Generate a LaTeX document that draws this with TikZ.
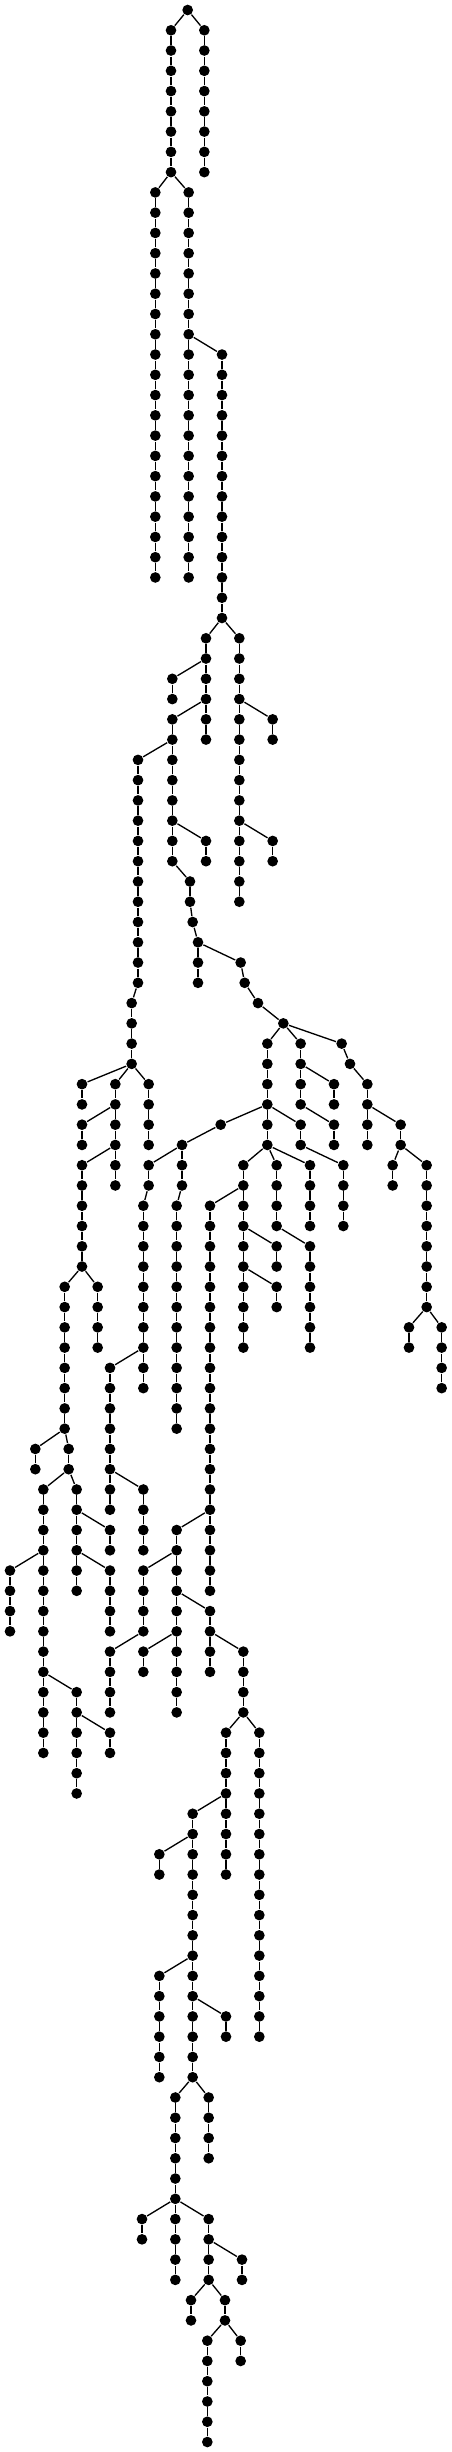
\documentclass[tikz,border=0pt]{standalone}
\tikzset{
  tnode/.style={circle, fill=black, inner sep=0pt, minimum size=3.2pt},
  tedge/.style={line width=0.4pt, black}
}
\newcommand\chain[4]{%
  \foreach \l in {#3,...,#4}{\node[tnode] (#1-\l) at (#2,{-30-60.8*\l}) {};}%
  \ifnum#3<#4\relax
    \foreach \l in {#3,...,#4}{\ifnum\l>#3\relax\pgfmathtruncatemacro\p{\l-1}\draw[tedge] (#1-\p) -- (#1-\l);\fi}%
  \fi}
\newcommand\tlink[2]{\draw[tedge] (#1) -- (#2);}
\begin{document}
\begin{tikzpicture}[x=0.1pt,y=0.1pt]
\useasboundingbox (0,0) rectangle (1356,-7356);
\chain{r}{563}{0}{0}
\chain{A}{513}{1}{8}  \tlink{r-0}{A-1}
\chain{B}{613}{1}{8}  \tlink{r-0}{B-1}
\chain{C}{466}{9}{28} \tlink{A-8}{C-9}
\chain{D}{566}{9}{28} \tlink{A-8}{D-9}
\chain{E}{666}{17}{30} \tlink{D-16}{E-17}
\chain{F}{618}{31}{36} \tlink{E-30}{F-31}
\chain{N}{718}{31}{44} \tlink{E-30}{N-31}
\chain{G}{517}{33}{34} \tlink{F-32}{G-33}
\chain{H}{517}{35}{42} \tlink{F-34}{H-35}
\chain{O}{818}{35}{36} \tlink{N-34}{O-35}
\chain{I}{414}{37}{48} \tlink{H-36}{I-37}
\chain{J}{618}{41}{42} \tlink{H-40}{J-41}
\chain{P}{818}{41}{42} \tlink{N-40}{P-41}
\chain{K}{570}{43}{44} \tlink{H-42}{K-43}
\chain{Ka}{578}{45}{45} \tlink{K-44}{Ka-45}
\chain{Kb}{594}{46}{48} \tlink{Ka-45}{Kb-46}
\chain{M}{722}{47}{47} \tlink{Kb-46}{M-47}
\chain{Ma}{734}{48}{48} \tlink{M-47}{Ma-48}
\chain{Mb}{774}{49}{49} \tlink{Ma-48}{Mb-49}
\chain{Mc}{850}{50}{50} \tlink{Mb-49}{Mc-50}
\chain{Ia}{395}{49}{52} \tlink{I-48}{Ia-49}
\chain{Q}{246}{53}{54} \tlink{Ia-52}{Q-53}
\chain{S}{346}{53}{58} \tlink{Ia-52}{S-53}
\chain{Z}{446}{53}{56} \tlink{Ia-52}{Z-53}
\chain{T}{246}{55}{56} \tlink{S-54}{T-55}
\chain{U}{246}{57}{62} \tlink{S-56}{U-57}
\chain{V}{194}{63}{70} \tlink{U-62}{V-63}
\chain{W}{293}{63}{66} \tlink{U-62}{W-63}
\chain{X}{106}{71}{72} \tlink{V-70}{X-71}
\chain{Y}{206}{71}{72} \tlink{V-70}{Y-71}
\chain{Ya}{130}{73}{86} \tlink{Y-72}{Ya-73}
\chain{Yb}{230}{73}{78} \tlink{Y-72}{Yb-73}
\chain{Yc}{30}{77}{80} \tlink{Ya-76}{Yc-77}
\chain{Yd}{230}{83}{88} \tlink{Ya-82}{Yd-83}
\chain{Ye}{330}{85}{86} \tlink{Yd-84}{Ye-85}
\chain{Yf}{330}{75}{76} \tlink{Yb-74}{Yf-75}
\chain{Yg}{330}{77}{80} \tlink{Yb-76}{Yg-77}
\chain{AA}{802}{51}{54} \tlink{Mc-50}{AA-51}
\chain{BK}{902}{51}{54} \tlink{Mc-50}{BK-51}
\chain{BL}{1025}{51}{51} \tlink{Mc-50}{BL-51}
\chain{BLa}{1050}{52}{52} \tlink{BL-51}{BLa-52}
\chain{BLb}{1102}{53}{56} \tlink{BLa-52}{BLb-53}
\chain{BO}{1202}{55}{56} \tlink{BLb-54}{BO-55}
\chain{BP}{1178}{57}{58} \tlink{BO-56}{BP-57}
\chain{BQ}{1280}{57}{64} \tlink{BO-56}{BQ-57}
\chain{BR}{1227}{65}{66} \tlink{BQ-64}{BR-65}
\chain{BS}{1325}{65}{68} \tlink{BQ-64}{BS-65}
\chain{BM}{1002}{53}{54} \tlink{BK-52}{BM-53}
\chain{BN}{1002}{55}{56} \tlink{BK-54}{BN-55}
\chain{AB}{662}{55}{55} \tlink{AA-54}{AB-55}
\chain{AC}{802}{55}{56} \tlink{AA-54}{AC-55}
\chain{AD}{902}{55}{56} \tlink{AA-54}{AD-55}
\chain{BJ}{1030}{57}{60} \tlink{AD-56}{BJ-57}
\chain{ABa}{546}{56}{58} \tlink{AB-55}{ABa-56}
\chain{AE}{446}{57}{58} \tlink{ABa-56}{AE-57}
\chain{AEa}{430}{59}{68} \tlink{AE-58}{AEa-59}
\chain{AF}{330}{67}{74} \tlink{AEa-66}{AF-67}
\chain{AG}{430}{73}{76} \tlink{AF-72}{AG-73}
\chain{ABb}{530}{59}{70} \tlink{ABa-58}{ABb-59}
\chain{AH}{730}{57}{66} \tlink{AC-56}{AH-57}
\chain{AI}{830}{57}{60} \tlink{AC-56}{AI-57}
\chain{AJ}{930}{57}{60} \tlink{AC-56}{AJ-57}
\chain{BI}{930}{61}{66} \tlink{AI-60}{BI-61}
\chain{AL}{830}{61}{62} \tlink{AH-60}{AL-61}
\chain{AM}{830}{63}{64} \tlink{AH-62}{AM-63}
\chain{AK}{630}{59}{78} \tlink{AH-58}{AK-59}
\chain{AN}{530}{75}{84} \tlink{AK-74}{AN-75}
\chain{AO}{430}{77}{80} \tlink{AN-76}{AO-77}
\chain{AR}{330}{81}{84} \tlink{AO-80}{AR-81}
\chain{AP}{630}{79}{82} \tlink{AN-78}{AP-79}
\chain{AQ}{430}{81}{82} \tlink{AN-80}{AQ-81}
\chain{AS}{730}{81}{84} \tlink{AP-80}{AS-81}
\chain{AT}{678}{85}{92} \tlink{AS-84}{AT-85}
\chain{AU}{778}{85}{100} \tlink{AS-84}{AU-85}
\chain{AV}{578}{89}{102} \tlink{AT-88}{AV-89}
\chain{AW}{478}{91}{92} \tlink{AV-90}{AW-91}
\chain{AX}{478}{97}{102} \tlink{AV-96}{AX-97}
\chain{AY}{678}{99}{100} \tlink{AV-98}{AY-99}
\chain{AZ}{526}{103}{112} \tlink{AV-102}{AZ-103}
\chain{BA}{626}{103}{106} \tlink{AV-102}{BA-103}
\chain{BB}{426}{109}{110} \tlink{AZ-108}{BB-109}
\chain{BC}{626}{109}{112} \tlink{AZ-108}{BC-109}
\chain{BD}{726}{111}{112} \tlink{BC-110}{BD-111}
\chain{BE}{573}{113}{114} \tlink{BC-112}{BE-113}
\chain{BF}{675}{113}{114} \tlink{BC-112}{BF-113}
\chain{BG}{622}{115}{120} \tlink{BF-114}{BG-115}
\chain{BH}{722}{115}{116} \tlink{BF-114}{BH-115}
\end{tikzpicture}
\end{document}
